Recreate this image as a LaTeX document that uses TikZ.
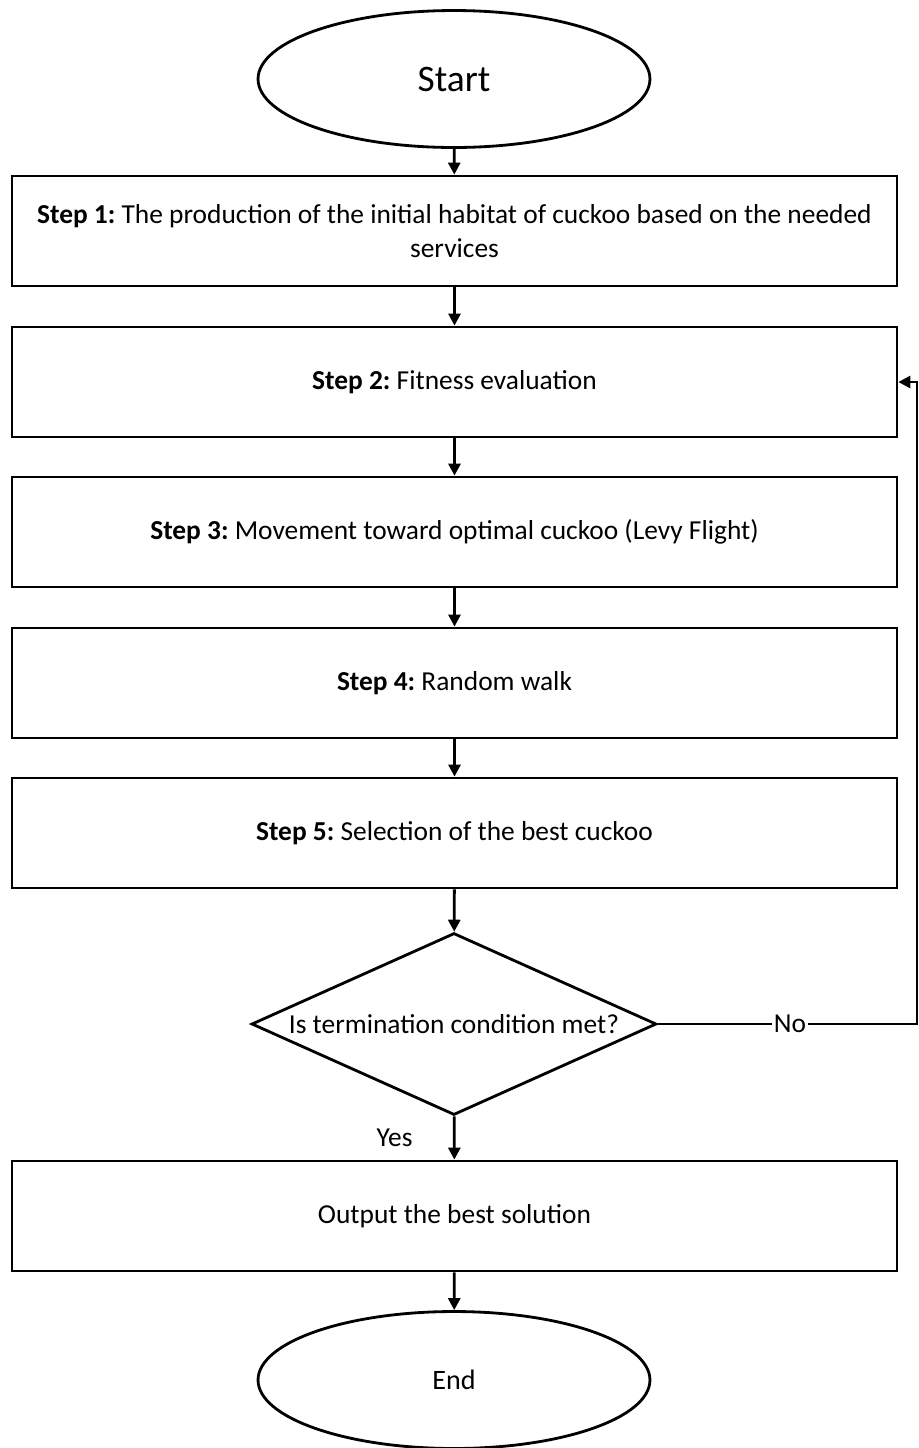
\documentclass[tikz,border=0pt]{standalone}
\usepackage{fontspec}
\setmainfont{Carlito}
\usepackage{tikz}
\usetikzlibrary{arrows.meta, positioning, shapes.geometric}

\begin{document}
\frenchspacing
\begin{tikzpicture}[
    x=0.02cm, y=-0.02cm,
    >={Triangle[length=2.4mm, width=2.4mm]},
    line width=1.6pt,
    term/.style={draw, ellipse, minimum width=7.84cm, minimum height=2.74cm, inner sep=0pt},
    stepbox/.style={draw, minimum width=17.7cm, minimum height=2.2cm, inner sep=2pt,
      text width=16.9cm, align=flush center, font=\fontsize{15.6}{19}\selectfont},
    cond/.style={draw, diamond, aspect=2.22, minimum width=8.1cm, minimum height=3.64cm,
      inner sep=0pt, font=\fontsize{15.6}{19}\selectfont},
    lbl/.style={font=\fontsize{15.6}{19}\selectfont, inner sep=1pt}]
  \useasboundingbox (0,0) rectangle (919,1448);

  % Terminals
  \node[term, font=\fontsize{21.3}{25}\selectfont] (start) at (454,79) {Start};
  \node[term, font=\fontsize{16}{19}\selectfont] (end) at (454,1380) {End};

  % The five steps of the search
  \node[stepbox] (s1) at (454.5,231) {\textbf{Step 1:} The production of the initial habitat of cuckoo based on the needed services};
  \node[stepbox] (s2) at (454.5,382) {\textbf{Step 2:} Fitness evaluation};
  \node[stepbox] (s3) at (454.5,532) {\textbf{Step 3:} Movement toward optimal cuckoo (Levy Flight)};
  \node[stepbox] (s4) at (454.5,683) {\textbf{Step 4:} Random walk};
  \node[stepbox] (s5) at (454.5,833) {\textbf{Step 5:} Selection of the best cuckoo};

  % Stopping test and result
  \node[cond] (test) at (454,1024) {Is termination condition met?};
  \node[stepbox] (out) at (454.5,1216) {Output the best solution};

  \draw[->] (start) -- (s1);
  \foreach \a/\b in {s1/s2, s2/s3, s3/s4, s4/s5, s5/test}
    \draw[->] (\a) -- (\b);
  \draw[->] (test) -- (out) node[lbl, pos=0.5, left=22pt] {Yes};
  \draw[->] (out) -- (end);

  % Loop back when not done
  \coordinate (back) at (917,1024);
  \draw[->] (test.east) -- (back) node[lbl, fill=white, pos=0.51] {No} |- (s2.east);
\end{tikzpicture}
\end{document}
